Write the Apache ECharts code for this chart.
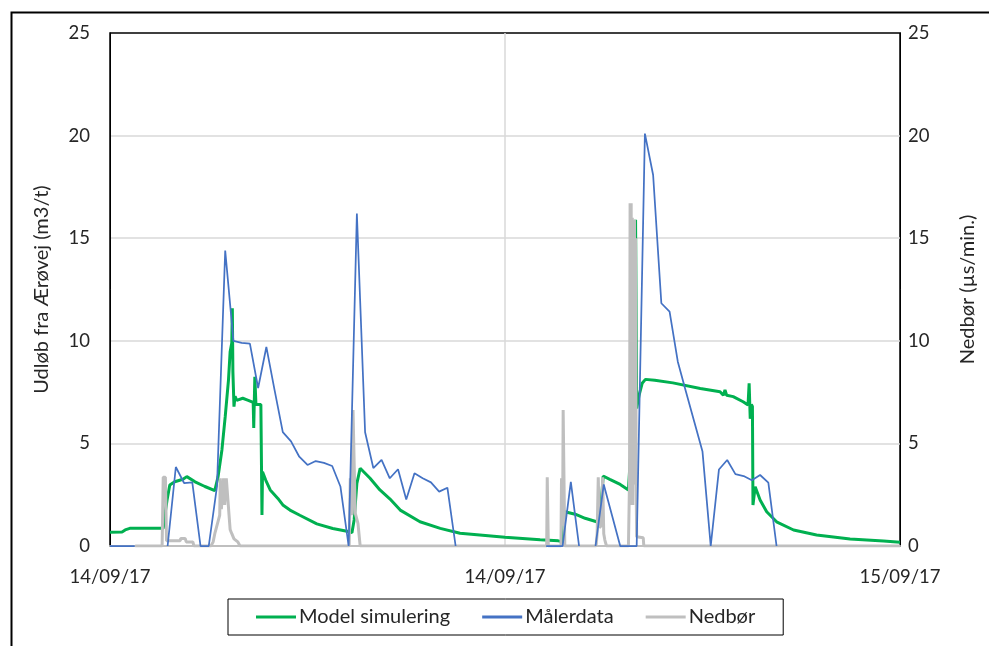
<!DOCTYPE html>
<html>
<head>
<meta charset="utf-8">
<script src="https://cdn.jsdelivr.net/npm/echarts@6/dist/echarts.min.js"></script>
<style>
html,body{margin:0;padding:0;background:#fff;}
#chart{width:989px;height:646px;}
</style>
</head>
<body>
<div id="chart"></div>
<script>
// X axis: minutes since 14/09/17 00:00
const xTickLabels = ['14/09/17', '14/09/17', '15/09/17'];
const yTicks = [0, 5, 10, 15, 20, 25];

const seriesNames = ['Model simulering', 'Målerdata', 'Nedbør'];

// Model simulering (m3/t)
const modelMinutes = [0, 22, 29, 36, 97, 100, 104, 109, 118, 133, 140, 155, 173, 191, 197, 204, 210, 216, 219, 222, 223, 224, 226, 228, 231, 242, 252, 261, 262, 264, 266, 275, 277, 278, 284, 292, 306, 315, 328, 346, 377, 406, 432, 441, 445, 450, 456, 474, 492, 510, 529, 565, 602, 638, 674, 720, 784, 817, 820, 826, 829, 848, 866, 887, 893, 899, 911, 930, 945, 950, 953, 958, 960, 964, 970, 976, 993, 1026, 1076, 1112, 1118, 1121, 1124, 1136, 1154, 1163, 1165, 1167, 1169, 1171, 1172, 1176, 1185, 1197, 1215, 1246, 1288, 1349, 1410, 1440];
const modelValues  = [0.67, 0.68, 0.8, 0.86, 0.86, 1.5, 2.24, 2.97, 3.13, 3.25, 3.38, 3.13, 2.9, 2.7, 3.38, 4.68, 6.3, 8.1, 9.47, 9.9, 11.58, 8.5, 6.79, 7.3, 7.1, 7.2, 7.1, 7.0, 5.75, 8.25, 6.9, 6.9, 1.51, 3.62, 3.2, 2.73, 2.32, 2.0, 1.75, 1.5, 1.08, 0.85, 0.72, 0.65, 1.27, 3.05, 3.79, 3.3, 2.73, 2.3, 1.75, 1.18, 0.86, 0.62, 0.54, 0.43, 0.3, 0.25, 0.16, 0.2, 1.67, 1.55, 1.35, 1.18, 1.3, 3.41, 3.25, 3.0, 2.73, 5, 10, 15.9, 6.7, 7.3, 7.93, 8.12, 8.08, 7.95, 7.68, 7.52, 7.35, 7.6, 7.35, 7.28, 7.03, 6.87, 7.93, 6.2, 6.9, 6.8, 2.0, 2.89, 2.24, 1.67, 1.18, 0.78, 0.54, 0.34, 0.24, 0.18];

// Målerdata (m3/t), one reading every 15 minutes, null = no reading
const maalerStepMinutes = 15;
const maalerValues = [0, 0, 0, 0, null, null, null, 0, 3.85, 3.07, 3.1, 0, 0, 2.9, 14.4, 10.0, 9.9, 9.86, 7.7, 9.7, 7.6, 5.55, 5.1, 4.35, 3.95, 4.14, 4.05, 3.9, 2.9, 0, 16.2, 5.54, 3.8, 4.2, 3.3, 3.74, 2.27, 3.54, 3.3, 3.1, 2.65, 2.84, 0, null, null, null, null, null, null, null, null, null, null, 0, 0, 0, 3.13, 0, null, 0, 3.0, 1.5, 0, 0, 0, 20.1, 18.08, 11.83, 11.42, 8.98, 7.5, 6.05, 4.6, 0, 3.73, 4.19, 3.5, 3.41, 3.2, 3.46, 3.09, 0, null, null, null, null, null, null, null, null, null, null, null, null, null, null, null];

// Nedbør (µs/min.)
const nedborMinutes = [46, 95, 97, 101, 103, 128, 129, 137, 139, 151, 153, 184, 188, 191, 197, 200, 201, 203, 207, 209, 212, 214, 217, 219, 222, 226, 233, 237, 436, 438, 441, 443, 445, 447, 450, 452, 454, 456, 796, 797, 799, 822, 823, 825, 826, 827, 829, 886, 888, 890, 892, 896, 898, 900, 902, 905, 945, 946, 947, 948, 949, 950, 951, 952, 953, 954, 955, 956, 957, 958, 959, 960, 961, 972, 973, 1440];
const nedborValues  = [0, 0, 3.35, 3.35, 0.26, 0.26, 0.37, 0.37, 0.2, 0.2, 0, 0, 0.2, 0.6, 1.2, 1.5, 3.3, 1.8, 3.3, 2.0, 3.3, 3.3, 1.5, 0.8, 0.6, 0.35, 0.2, 0, 0, 3.3, 1.5, 6.63, 6.63, 1.6, 1.6, 1.1, 1.1, 0, 0, 3.35, 0, 0, 3.3, 1.0, 6.63, 6.63, 0, 0, 0.63, 3.35, 0.9, 1.0, 3.35, 0.6, 0.29, 0, 0, 1.6, 3.3, 16.7, 2.0, 16.7, 3.0, 16.0, 2.0, 15.9, 3.0, 15.9, 3.3, 15.0, 3.2, 0.45, 0.4, 0.4, 0, 0];

const modelData = modelMinutes.map((m, i) => [m, modelValues[i]]);
const maalerData = maalerValues.map((v, i) => [i * maalerStepMinutes, v === null ? '-' : v]);
const nedborData = nedborMinutes.map((m, i) => [m, nedborValues[i]]);

const FONT = 'Lato';
const TXT = '#262626';

const chart = echarts.init(document.getElementById('chart'), null, {renderer: 'canvas'});
chart.setOption({
  animation: false,
  backgroundColor: '#fff',
  textStyle: {fontFamily: FONT},
  graphic: [{
    type: 'rect', left: 9, top: 10, z: -10,
    shape: {width: 1000, height: 700},
    style: {fill: 'none', stroke: '#000', lineWidth: 2}
  }],
  grid: {left: 110, right: 89, top: 33, bottom: 100, show: true, borderColor: '#000', borderWidth: 1.5, backgroundColor: 'transparent'},
  legend: {
    data: seriesNames,
    left: 228, top: 599,
    padding: [8, 28, 8, 28],
    itemGap: 32,
    itemWidth: 40, itemHeight: 3,
    icon: 'rect',
    borderColor: '#000', borderWidth: 1,
    textStyle: {fontFamily: FONT, fontSize: 20, color: TXT, padding: [0, 0, 0, -2]}
  },
  xAxis: {
    type: 'value', min: 0, max: 1440, interval: 720,
    axisLine: {show: true, lineStyle: {color: '#bfbfbf', width: 2}},
    axisTick: {show: false},
    splitLine: {show: true, showMinLine: false, showMaxLine: false, lineStyle: {color: '#d9d9d9', width: 1.5}},
    axisLabel: {
      margin: 22, fontSize: 18.5, color: TXT, fontFamily: FONT,
      formatter: v => xTickLabels[Math.round(v / 720)]
    }
  },
  yAxis: [{
    type: 'value', min: yTicks[0], max: yTicks[yTicks.length - 1], interval: 5,
    name: 'Udløb fra Ærøvej (m3/t)', nameLocation: 'middle', nameGap: 58, nameRotate: 90,
    nameTextStyle: {fontSize: 20, color: TXT, fontFamily: FONT},
    axisLine: {show: true, lineStyle: {color: '#000', width: 1}},
    axisTick: {show: false},
    splitLine: {show: true, showMinLine: false, showMaxLine: false, lineStyle: {color: '#d9d9d9', width: 1.5}},
    axisLabel: {margin: 20, fontSize: 18.5, color: TXT, fontFamily: FONT}
  }, {
    type: 'value', min: yTicks[0], max: yTicks[yTicks.length - 1], interval: 5, position: 'right',
    name: 'Nedbør (µs/min.)', nameLocation: 'middle', nameGap: 58, nameRotate: 90,
    nameTextStyle: {fontSize: 20, color: TXT, fontFamily: FONT},
    axisLine: {show: true, lineStyle: {color: '#000', width: 1}},
    axisTick: {show: false},
    splitLine: {show: false},
    axisLabel: {margin: 8, fontSize: 18.5, color: TXT, fontFamily: FONT}
  }],
  series: [{
    name: seriesNames[0], type: 'line', yAxisIndex: 0, data: modelData,
    symbol: 'none', z: 2, color: '#00b050',
    lineStyle: {color: '#00b050', width: 3}
  }, {
    name: seriesNames[2], type: 'line', yAxisIndex: 1, data: nedborData,
    symbol: 'none', z: 3, color: '#bfbfbf',
    lineStyle: {color: '#bfbfbf', width: 3}
  }, {
    name: seriesNames[1], type: 'line', yAxisIndex: 0, data: maalerData,
    symbol: 'none', z: 4, color: '#4472c4', connectNulls: false,
    lineStyle: {color: '#4472c4', width: 1.75}
  }]
});
</script>
</body>
</html>
